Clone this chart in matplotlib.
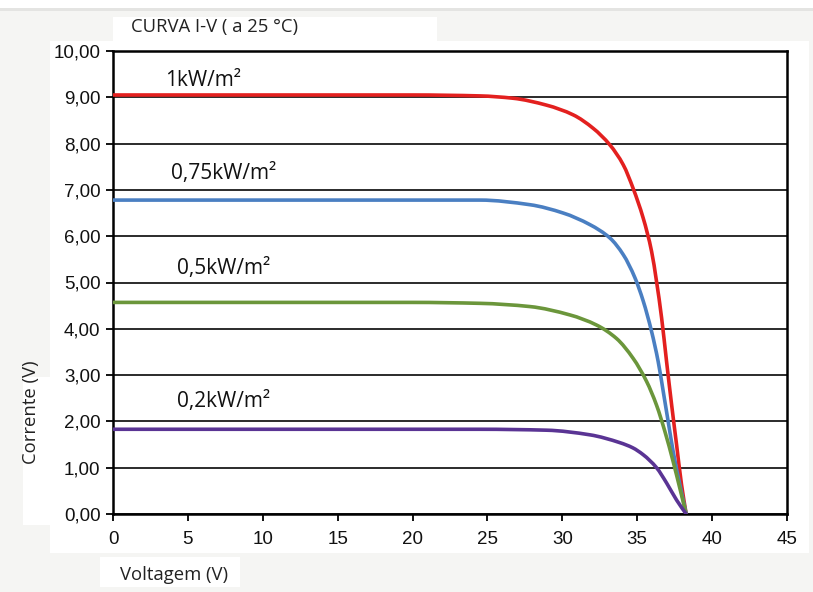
import numpy as np
import matplotlib
matplotlib.use("Agg")
import matplotlib.pyplot as plt
from matplotlib.patches import Rectangle, PathPatch
from matplotlib.path import Path

# ===============================
# DADOS
# ===============================

v_1000 = [0, 10, 20, 24.5, 26.7, 28.95, 30.73, 32.06, 33.18, 34.07, 34.73,
          35.4, 35.96, 36.29, 36.63, 36.96, 37.3, 37.63, 37.96, 38.27]
i_1000 = [9.05, 9.05, 9.05, 9.03, 8.98, 8.83, 8.62, 8.33, 7.97, 7.54, 7.03,
          6.39, 5.67, 5.02, 4.23, 3.29, 2.35, 1.49, 0.63, 0.0]

v_750 = [0, 10, 20, 24.5, 27.84, 30.06, 31.84, 33.18, 34.07, 34.85, 35.4,
         35.96, 36.4, 36.74, 37.07, 37.4, 37.85, 38.27]
i_750 = [6.78, 6.78, 6.78, 6.78, 6.68, 6.50, 6.25, 5.96, 5.60, 5.10, 4.60,
         3.94, 3.29, 2.64, 1.99, 1.35, 0.63, 0.0]

v_500 = [0, 10, 20, 24.5, 27.84, 30.5, 32.29, 33.62, 34.73, 35.63, 36.29,
         36.85, 37.4, 37.85, 38.27]
i_500 = [4.57, 4.57, 4.57, 4.55, 4.48, 4.30, 4.08, 3.79, 3.36, 2.86, 2.35,
         1.78, 1.13, 0.55, 0.0]

v_200 = [0, 10, 20, 24.5, 28.95, 31.84, 33.85, 34.7, 35.4, 36.29, 36.96,
         37.63, 38.27]
i_200 = [1.83, 1.83, 1.83, 1.83, 1.81, 1.71, 1.54, 1.43, 1.28, 1.00, 0.67,
         0.30, 0.0]

rotulos = ["1kW/m²", "0,75kW/m²", "0,5kW/m²", "0,2kW/m²"]
cores = ["#e3201f", "#4a7fc2", "#6b963b", "#5a3494"]
series = [(v_1000, i_1000), (v_750, i_750), (v_500, i_500), (v_200, i_200)]

# posição dos rótulos (V, I)
rotulo_pos = [(3.45, 9.37), (3.9, 7.36), (4.3, 5.31), (4.3, 2.42)]

yticks = np.arange(0, 11, 1)
xticks = np.arange(0, 50, 5)

W, H = 813, 592


def caixa(fig, x, y, w, h, cor):
    """retângulo em pixels (origem no canto superior esquerdo)"""
    fig.patches.append(Rectangle((x / W, 1 - (y + h) / H), w / W, h / H,
                                 transform=fig.transFigure, facecolor=cor,
                                 edgecolor="none", zorder=-10))


def linha_suave(xs, ys):
    """linha suavizada: Bézier cúbica monótona (Fritsch-Carlson) pelos pontos"""
    x = np.asarray(xs, float)
    y = np.asarray(ys, float)
    h = np.diff(x)
    d = np.diff(y) / h
    n = len(x)
    m = np.zeros(n)
    m[0], m[-1] = d[0], d[-1]
    for k in range(1, n - 1):
        if d[k - 1] * d[k] <= 0:
            m[k] = 0.0
        else:
            w1 = 2 * h[k] + h[k - 1]
            w2 = h[k] + 2 * h[k - 1]
            m[k] = (w1 + w2) / (w1 / d[k - 1] + w2 / d[k])
    verts = [(x[0], y[0])]
    codes = [Path.MOVETO]
    for k in range(n - 1):
        verts += [(x[k] + h[k] / 3, y[k] + m[k] * h[k] / 3),
                  (x[k + 1] - h[k] / 3, y[k + 1] - m[k + 1] * h[k] / 3),
                  (x[k + 1], y[k + 1])]
        codes += [Path.CURVE4] * 3
    return Path(verts, codes)


# ===============================
# FIGURA
# ===============================

fig = plt.figure(figsize=(W / 100, H / 100), dpi=100, facecolor="#f5f5f3")

caixa(fig, 0, 0, W, 8, "white")
caixa(fig, 0, 8, W, 3, "#e4e4e2")
caixa(fig, 50, 41, 759, 512, "white")     # painel do gráfico
caixa(fig, 113, 17, 324, 24, "white")     # título
caixa(fig, 23, 377, 30, 148, "white")     # rótulo y
caixa(fig, 100, 557, 140, 30, "white")    # rótulo x

ax = fig.add_axes([113 / W, 1 - 514 / H, (787 - 113) / W, (514 - 51) / H])
ax.set_facecolor("white")

for (vs, ys), cor in zip(series, cores):
    ax.add_patch(PathPatch(linha_suave(vs, ys), facecolor="none",
                           edgecolor=cor, linewidth=2.6, joinstyle="round",
                           capstyle="round", zorder=3))

for (px, py), txt in zip(rotulo_pos, rotulos):
    ax.text(px, py, txt, fontsize=15, family="Open Sans", color="#111111",
            va="center", ha="left", zorder=4)

ax.set_xlim(0, 45)
ax.set_ylim(0, 10)
ax.set_xticks(xticks)
ax.set_yticks(yticks)
ax.set_xticklabels([str(v) for v in xticks], family="Liberation Sans",
                   fontsize=13.5, color="#111111")
ax.set_yticklabels([f"{v:.2f}".replace(".", ",") for v in yticks],
                   family="Liberation Sans", fontsize=13.5, color="#111111")
ax.tick_params(axis="both", direction="out", length=5, width=1.3,
               color="black")
ax.tick_params(axis="y", pad=4)
ax.tick_params(axis="x", pad=7)

ax.grid(axis="y", color="#1a1a1a", linewidth=1.3, zorder=1)
ax.set_axisbelow(True)
for lado in ["left", "right", "top", "bottom"]:
    ax.spines[lado].set_color("black")
    ax.spines[lado].set_linewidth(1.8)

# ===============================
# TEXTOS
# ===============================

fig.text(131 / W, 1 - 27 / H, "CURVA I-V ( a 25 °C)", family="Open Sans",
         fontsize=13.3, color="#222222", va="center", ha="left")
fig.text(174 / W, 1 - 575 / H, "Voltagem (V)", family="Open Sans",
         fontsize=13.3, color="#222222", va="center", ha="center")
fig.text(31 / W, 1 - 412 / H, "Corrente (V)", family="Open Sans",
         fontsize=13.3, color="#222222", va="center", ha="center",
         rotation=90)

fig.savefig("out.png", dpi=100, facecolor=fig.get_facecolor())
